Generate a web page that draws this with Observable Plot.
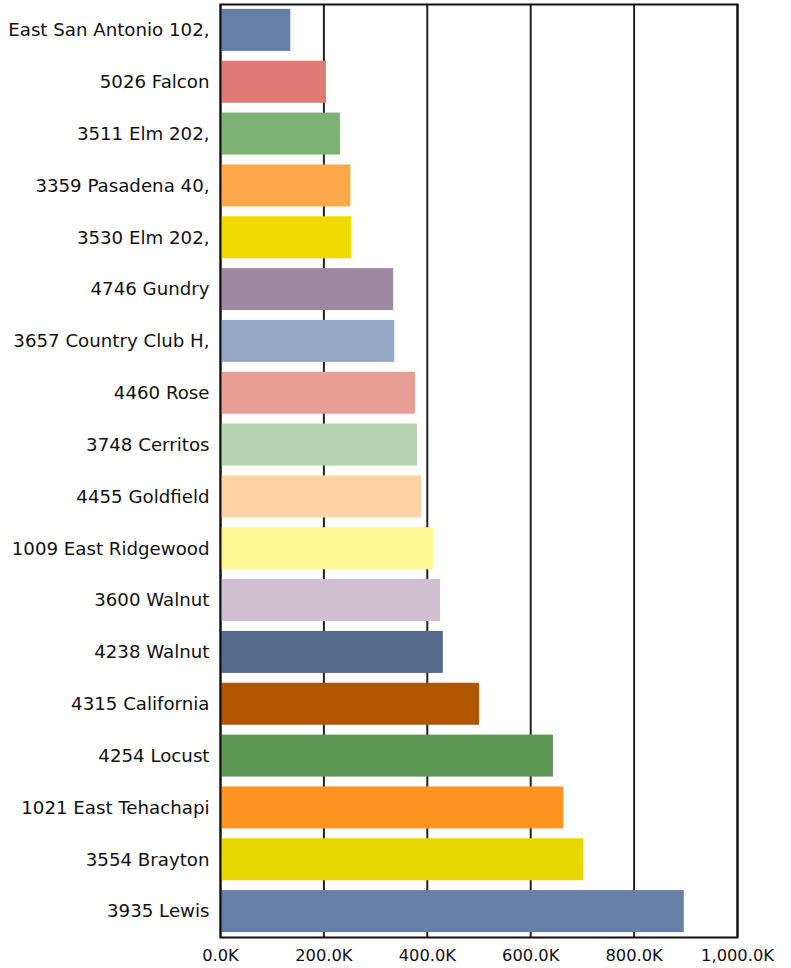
<!DOCTYPE html>
<html>
<head>
<meta charset="utf-8">
<script src="https://cdn.jsdelivr.net/npm/d3@7"></script>
<script src="https://cdn.jsdelivr.net/npm/@observablehq/plot@0.6"></script>
<style>
  html, body { margin: 0; padding: 0; background: #fff; }
  #chart svg { display: block; }
</style>
</head>
<body>
<div id="chart"></div>
<script>
const addresses = [
  "East San Antonio 102,", "5026 Falcon", "3511 Elm 202,", "3359 Pasadena 40,",
  "3530 Elm 202,", "4746 Gundry", "3657 Country Club H,", "4460 Rose",
  "3748 Cerritos", "4455 Goldfield", "1009 East Ridgewood", "3600 Walnut",
  "4238 Walnut", "4315 California", "4254 Locust", "1021 East Tehachapi",
  "3554 Brayton", "3935 Lewis"
];
// values in thousands
const values = [136, 205, 232, 252, 253.5, 335, 337, 377, 381, 389, 412, 425.5, 431, 501, 644, 664, 703, 897];
const barColors = [
  "#667fa7", "#e07a74", "#7cb274", "#ffa74b", "#efd900", "#9d89a2",
  "#96aac7", "#e89e94", "#b5d3ae", "#ffd3a4", "#fff694", "#d0bfd0",
  "#536a8d", "#b05600", "#5b9752", "#ff9423", "#e6d800", "#657fa7"
];
const xTicks = [0, 200, 400, 600, 800, 1000];

const data = addresses.map((a, i) => ({address: a, value: values[i]}));
const fmt = d3.format(",.1f");

const chart = Plot.plot({
  width: 791,
  height: 968,
  marginLeft: 220,
  marginRight: 54,
  marginTop: 4,
  marginBottom: 31,
  style: {fontFamily: "'DejaVu Sans', Verdana, sans-serif", fontSize: "16.3px", color: "#111", background: "#fff"},
  x: {domain: [0, 1000], ticks: xTicks, label: null},
  y: {domain: addresses, paddingInner: 0.19, paddingOuter: 0.095, round: false, label: null},
  color: {domain: addresses, range: barColors},
  marks: [
    Plot.ruleX(xTicks, {stroke: "#222", strokeWidth: 2}),
    Plot.barX(data, {y: "address", x: "value", fill: "address"}),
    Plot.frame({stroke: "#111", strokeWidth: 2}),
    Plot.axisX({ticks: xTicks, tickSize: 0, tickPadding: 12, tickFormat: d => fmt(d) + "K", fontSize: 16.3, label: null}),
    Plot.axisY({tickSize: 0, tickPadding: 11, fontSize: 18.2, label: null})
  ]
});
document.getElementById("chart").appendChild(chart);
</script>
</body>
</html>
